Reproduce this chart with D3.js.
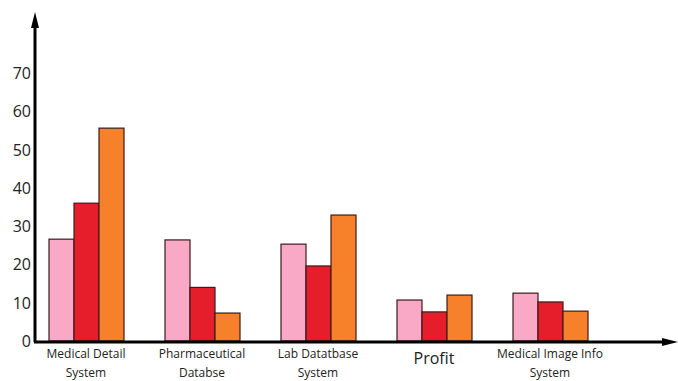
<!DOCTYPE html>
<html>
<head>
	<title>Bars</title>
	<script src="https://cdn.jsdelivr.net/npm/d3@7"></script>
	<style>
	body { margin: 0; background: #fff; }
	text { font-family: "Open Sans", "Noto Sans", sans-serif; fill: #222; }
	</style>
</head>
<body>
	<svg></svg>
	<script>

	var categories = ["Medical Detail|System", "Pharmaceutical|Databse", "Lab Datatbase|System", "Profit", "Medical Image Info|System"];
	var seriesA = [26.6, 26.4, 25.3, 10.7, 12.5];
	var seriesB = [36, 14, 19.6, 7.6, 10.2];
	var seriesC = [55.6, 7.3, 32.9, 12, 7.8];
	var yTicks = [0, 10, 20, 30, 40, 50, 60, 70];

	var colors = ["#f9a8c5", "#e61e2b", "#f7812b"];
	var series = [seriesA, seriesB, seriesC];

	var width = 678, height = 381;

	var svg = d3.select("svg")
		.attr("width", width)
		.attr("height", height);

	var xScale = d3.scaleBand().domain(categories).range([28, 608]);
	var x1 = d3.scaleBand().domain([0, 1, 2]).range([-37, 38]);
	var yScale = d3.scaleLinear().domain([0, 70]).range([341, 73]);

	// bars
	var groups = svg.selectAll("g.group")
		.data(categories)
		.enter()
		.append("g")
		.attr("class", "group")
		.attr("transform", function(d) { return "translate(" + (xScale(d) + xScale.bandwidth() / 2) + ",0)"; });

	groups.selectAll("rect")
		.data(function(d, i) { return series.map(function(s, j) { return {k: j, v: s[i]}; }); })
		.enter()
		.append("rect")
		.attr("x", function(d) { return x1(d.k); })
		.attr("width", x1.bandwidth())
		.attr("y", function(d) { return yScale(d.v); })
		.attr("height", function(d) { return yScale(0) - yScale(d.v); })
		.attr("fill", function(d) { return colors[d.k]; })
		.attr("stroke", "#3a1c1c")
		.attr("stroke-width", 1.2);

	// category labels
	groups.each(function(d) {
		var lines = d.split("|");
		var big = lines.length == 1;
		d3.select(this).selectAll("text")
			.data(lines)
			.enter()
			.append("text")
			.attr("text-anchor", "middle")
			.attr("y", function(l, i) { return big ? 364 : 358 + i * 19; })
			.style("font-size", big ? "16px" : "12px")
			.text(function(l) { return l; });
	});

	// y labels
	svg.selectAll("text.ytick")
		.data(yTicks)
		.enter()
		.append("text")
		.attr("class", "ytick")
		.attr("x", 31)
		.attr("y", function(d) { return yScale(d) + 6; })
		.attr("text-anchor", "end")
		.style("font-size", "16px")
		.text(function(d) { return d; });

	// axes with arrows
	svg.append("line")
		.attr("x1", 35).attr("y1", 342)
		.attr("x2", 35).attr("y2", 24)
		.attr("stroke", "#000").attr("stroke-width", 3);
	svg.append("path")
		.attr("d", "M35,12 L31,28 L39,28 Z")
		.attr("fill", "#000");

	svg.append("line")
		.attr("x1", 34).attr("y1", 342)
		.attr("x2", 666).attr("y2", 342)
		.attr("stroke", "#000").attr("stroke-width", 3);
	svg.append("path")
		.attr("d", "M678,342 L662,338 L662,346 Z")
		.attr("fill", "#000");

	</script>
</body>
</html>
